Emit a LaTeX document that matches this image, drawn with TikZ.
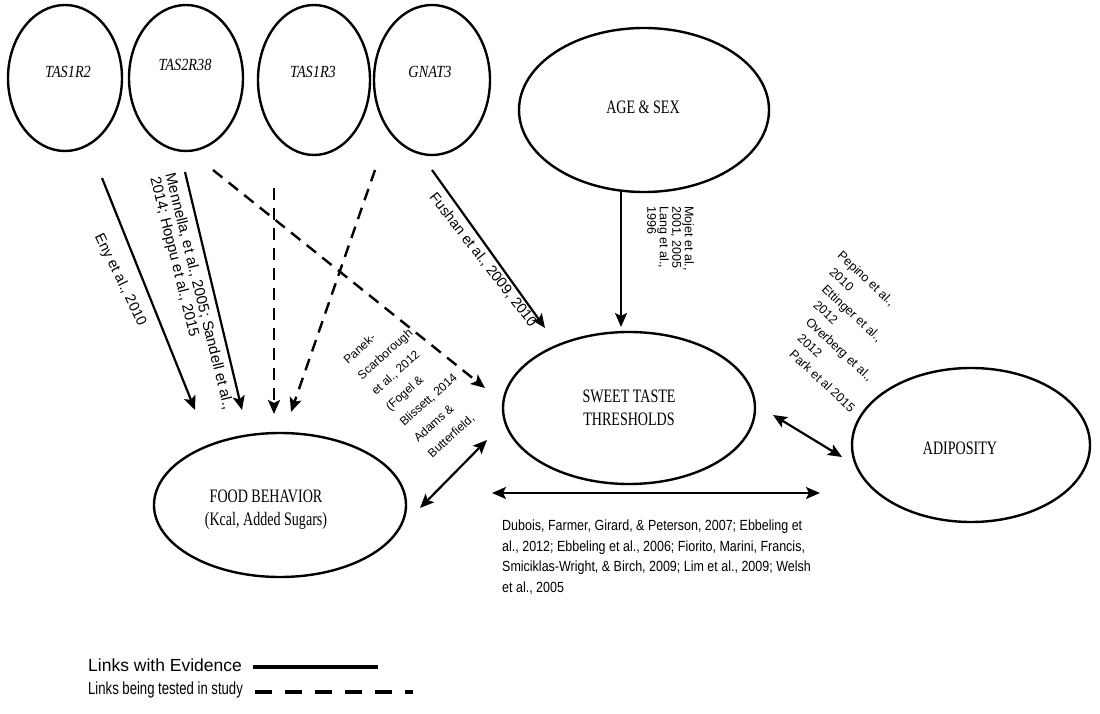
\documentclass[tikz,border=0pt]{standalone}
\usepackage{fontspec}
\setmainfont{Liberation Serif}
\newfontfamily\capsfont[FakeStretch=0.74]{Liberation Serif}
\newfontfamily\genefont[FakeStretch=0.84]{Liberation Serif}
\newfontfamily\citefont{Liberation Sans}
\newfontfamily\citenarrow[FakeStretch=0.85]{Liberation Sans}
\newfontfamily\legendnarrow[FakeStretch=0.75]{Liberation Sans}
\usetikzlibrary{shapes.geometric,arrows.meta}

\begin{document}
\begin{tikzpicture}[x=1pt,y=-1pt,
  >={Stealth[length=14pt,width=12pt,inset=3pt]},
  bubble/.style={ellipse, draw, line width=2.4pt, inner sep=0pt},
  gene/.style={font=\genefont\itshape\fontsize{17}{19}\selectfont, inner sep=0pt},
  caps/.style={font=\capsfont\fontsize{19}{23}\selectfont, inner sep=0pt, align=center},
  evid/.style={line width=2.2pt, ->},
  tested/.style={line width=2.4pt, ->, dash pattern=on 12pt off 8pt},
  mutual/.style={line width=2.2pt, <->},
  cite/.style={inner sep=0pt, align=left},
]
\fill[white] (0,0) rectangle (1100,714);
\useasboundingbox (0,0) rectangle (1100,714);

% genes along the top
\node[bubble, minimum width=114pt, minimum height=146pt] (tas1r2) at (65,78) {};
\node[gene] (tas1r2-t) at (68,72) {TAS1R2};
\node[bubble, minimum width=114pt, minimum height=146pt] (tas2r38) at (186,78) {};
\node[gene] (tas2r38-t) at (185,65) {TAS2R38};
\node[bubble, minimum width=112pt, minimum height=150pt] (tas1r3) at (314,80) {};
\node[gene] (tas1r3-t) at (313,72) {TAS1R3};
\node[bubble, minimum width=116pt, minimum height=150pt] (gnat3) at (432,80) {};
\node[gene] (gnat3-t) at (430,72) {GNAT3};

% main constructs
\node[bubble, minimum width=250pt, minimum height=164pt] (age) at (644,110) {};
\node[caps] (age-t) at (643,107) {AGE \& SEX};
\node[bubble, minimum width=252pt, minimum height=152pt] (sweet) at (629,408) {};
\node[caps] (sweet-t) at (629,408) {SWEET TASTE\\THRESHOLDS};
\node[bubble, minimum width=252pt, minimum height=144pt] (food) at (280,505) {};
\node[caps] (food-t) at (266,510) {FOOD BEHAVIOR\\(Kcal, Added Sugars)};
\node[bubble, minimum width=238pt, minimum height=154pt] (adip) at (971,445) {};
\node[caps] (adip-t) at (960,448) {ADIPOSITY};

% links
\draw[evid]   ([shift={(37,100)}]tas1r2.center) -- ([shift={(-85,-95)}]food.center);
\draw[evid]   ([shift={(-1,94)}]tas2r38.center) -- ([shift={(-38,-95)}]food.center);
\draw[tested] ([shift={(27,92)}]tas2r38.center) -- ([shift={(-144,-20)}]sweet.center);
\draw[tested] ([shift={(-40,108)}]tas1r3.center) -- ([shift={(-6,-91)}]food.center);
\draw[tested] ([shift={(-57,90)}]gnat3.center) -- ([shift={(11,-93)}]food.center);
\draw[evid]   ([shift={(0,90)}]gnat3.center) -- ([shift={(-84,-80)}]sweet.center);
\draw[evid]   ([shift={(-23,80)}]age.center) -- ([shift={(-8,-81)}]sweet.center);
\draw[mutual] ([shift={(140,3)}]food.center) -- ([shift={(-142,32)}]sweet.center);
\draw[mutual] ([shift={(212,-12)}]food.center) -- ([shift={(-151,48)}]adip.center);
\draw[mutual] ([shift={(144,7)}]sweet.center) -- ([shift={(-129,12)}]adip.center);

% citations
\node[cite, font=\citefont\fontsize{14.5}{15}\selectfont, rotate=-64] (eny) at (120,280) {Eny et al., 2010};
\node[cite, font=\citefont\fontsize{15}{15.5}\selectfont, rotate=-76, anchor=north west] (mennella) at (176,172)
  {Mennella, et al., 2005; Sandell et al.,\\2014; Hoppu et al., 2015};
\node[cite, font=\citefont\fontsize{14.5}{15}\selectfont, rotate=-52] (fushan) at (483,260) {Fushan et al., 2009, 2010};
\node[cite, font=\citefont\fontsize{12.5}{12.5}\selectfont, rotate=-90, anchor=north west] (mojet) at (694,206)
  {Mojet et al.,\\2001, 2005\\Lang et al.,\\1996};
\node[cite, font=\citefont\fontsize{12.5}{17.5}\selectfont, rotate=-43, anchor=north west] (pepino) at (843,250)
  {Pepino et al.,\\\hspace*{5pt}2010\\\hspace*{11pt}Ettinger et al.,\\\hspace*{16pt}2012\\
   \hspace*{22pt}Overberg et al.,\\\hspace*{27pt}2012\\\hspace*{32pt}Park et al 2015};
\node[cite, font=\citefont\fontsize{12}{21}\selectfont, rotate=42, anchor=north west] (panek) at (342,358)
  {Panek-\\Scarborough\\et al., 2012\\(Fogel \&\\Blissett, 2014\\Adams \&\\Butterfield,};
\node[cite, font=\citenarrow\fontsize{14.7}{20.5}\selectfont, anchor=north west] (dubois) at (502,520)
  {Dubois, Farmer, Girard, \& Peterson, 2007; Ebbeling et\\
   al., 2012; Ebbeling et al., 2006; Fiorito, Marini, Francis,\\
   Smiciklas-Wright, \& Birch, 2009; Lim et al., 2009; Welsh\\
   et al., 2005};

% legend
\node[font=\citefont\fontsize{17.5}{19}\selectfont, anchor=west, inner sep=0pt] (leg1) at (88,665) {Links with Evidence};
\node[font=\legendnarrow\fontsize{17.5}{19}\selectfont, anchor=west, inner sep=0pt] (leg2) at (88,690) {Links being tested in study};
\coordinate (leg1a) at (253,667);
\coordinate (leg1b) at (378,667);
\coordinate (leg2a) at (255,692);
\coordinate (leg2b) at (413,692);
\draw[line width=4pt] (leg1a) -- (leg1b);
\draw[line width=4.5pt, dash pattern=on 17pt off 13pt] (leg2a) -- (leg2b);
\end{tikzpicture}
\end{document}
